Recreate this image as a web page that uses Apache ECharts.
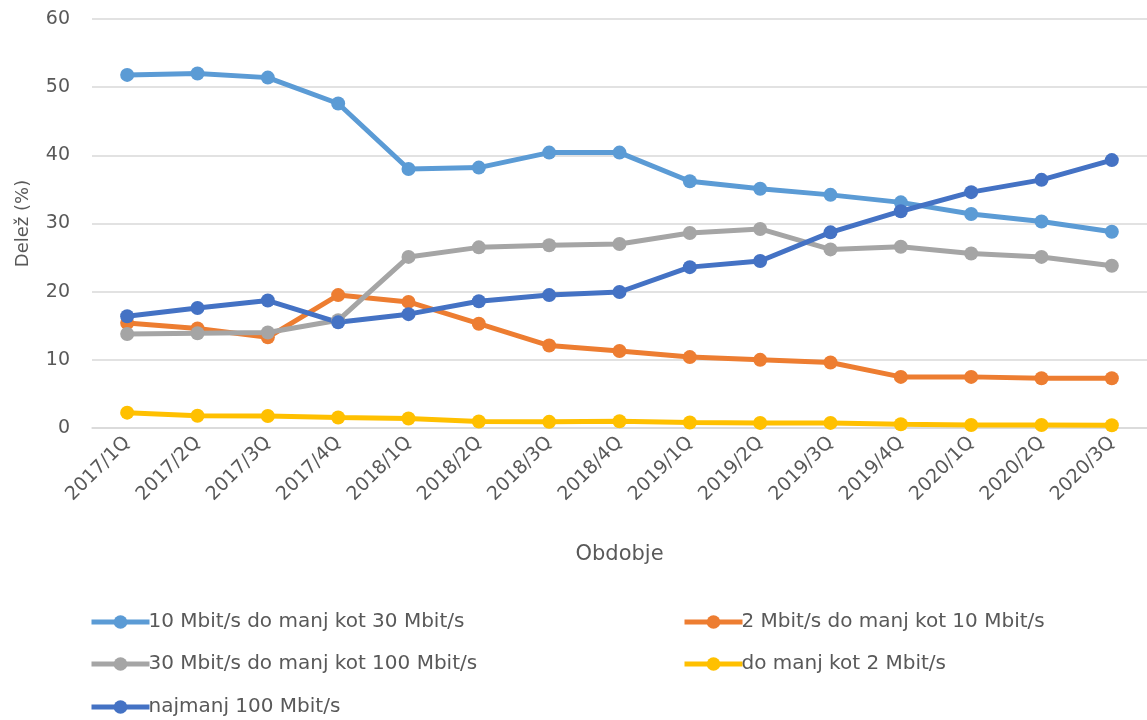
<!DOCTYPE html>
<html>
<head>
<meta charset="utf-8">
<script src="https://cdn.jsdelivr.net/npm/echarts@6/dist/echarts.min.js"></script>
<style>
html,body{margin:0;padding:0;background:#fff;}
#chart{width:1147px;height:720px;}
</style>
</head>
<body>
<div id="chart"></div>
<script>
const categories = ['2017/1Q','2017/2Q','2017/3Q','2017/4Q','2018/1Q','2018/2Q','2018/3Q','2018/4Q','2019/1Q','2019/2Q','2019/3Q','2019/4Q','2020/1Q','2020/2Q','2020/3Q'];
const s10to30 = [51.8, 52.0, 51.4, 47.6, 38.0, 38.2, 40.4, 40.4, 36.2, 35.1, 34.2, 33.1, 31.4, 30.3, 28.8];
const s2to10 = [15.4, 14.6, 13.3, 19.5, 18.5, 15.3, 12.1, 11.3, 10.4, 10.0, 9.6, 7.5, 7.5, 7.3, 7.3];
const s30to100 = [13.8, 13.9, 14.0, 15.8, 25.1, 26.5, 26.8, 27.0, 28.6, 29.2, 26.2, 26.6, 25.6, 25.1, 23.8];
const sBelow2 = [2.25, 1.8, 1.75, 1.55, 1.4, 0.95, 0.9, 1.0, 0.8, 0.75, 0.75, 0.55, 0.45, 0.45, 0.4];
const sAbove100 = [16.4, 17.6, 18.7, 15.5, 16.7, 18.6, 19.5, 19.95, 23.6, 24.5, 28.7, 31.8, 34.6, 36.4, 39.3];

const names = ['10 Mbit/s do manj kot 30 Mbit/s','2 Mbit/s do manj kot 10 Mbit/s','30 Mbit/s do manj kot 100 Mbit/s','do manj kot 2 Mbit/s','najmanj 100 Mbit/s'];
const colors = ['#5B9BD5','#ED7D31','#A5A5A5','#FFC000','#4472C4'];
const datasets = [s10to30, s2to10, s30to100, sBelow2, sAbove100];

const FONT = '"DejaVu Sans", sans-serif';
const TXT = '#595959';

// legend grid placement: [column, row]
const legendPlace = [[0,0],[1,0],[0,1],[1,1],[0,2]];
const legendCols = [84, 677];
const legendRows = [607, 649, 692];

const chart = echarts.init(document.getElementById('chart'));
chart.setOption({
  animation: false,
  color: colors,
  grid: {left: 92, top: 19, width: 1061, height: 409, containLabel: false},
  legend: names.map((n, i) => ({
    left: legendCols[legendPlace[i][0]],
    top: legendRows[legendPlace[i][1]],
    data: [n],
    itemWidth: 58,
    itemHeight: 17,
    lineStyle: {width: 5},
    textStyle: {fontFamily: FONT, fontSize: 20, color: TXT, padding: [0,0,0,-6]}
  })),
  xAxis: {
    type: 'category',
    data: categories,
    boundaryGap: true,
    axisLine: {lineStyle: {color: '#d9d9d9', width: 1.5}},
    axisTick: {show: false},
    axisLabel: {rotate: 45, fontFamily: FONT, fontSize: 19, color: TXT, margin: 12, interval: 0},
    name: 'Obdobje',
    nameLocation: 'middle',
    nameGap: 116,
    nameTextStyle: {fontFamily: FONT, fontSize: 21, color: TXT}
  },
  yAxis: {
    type: 'value',
    min: 0, max: 60, interval: 10,
    axisLine: {show: false},
    axisTick: {show: false},
    splitLine: {lineStyle: {color: '#d9d9d9', width: 1.5}},
    axisLabel: {fontFamily: FONT, fontSize: 19, color: TXT, margin: 22},
    name: 'Delež (%)',
    nameLocation: 'middle',
    nameRotate: 90,
    nameGap: 60,
    nameTextStyle: {fontFamily: FONT, fontSize: 18, color: TXT}
  },
  series: datasets.map((d, i) => ({
    name: names[i],
    type: 'line',
    data: d,
    symbol: 'circle',
    symbolSize: 14,
    lineStyle: {width: 5, color: colors[i]},
    itemStyle: {color: colors[i]}
  }))
});
</script>
</body>
</html>
